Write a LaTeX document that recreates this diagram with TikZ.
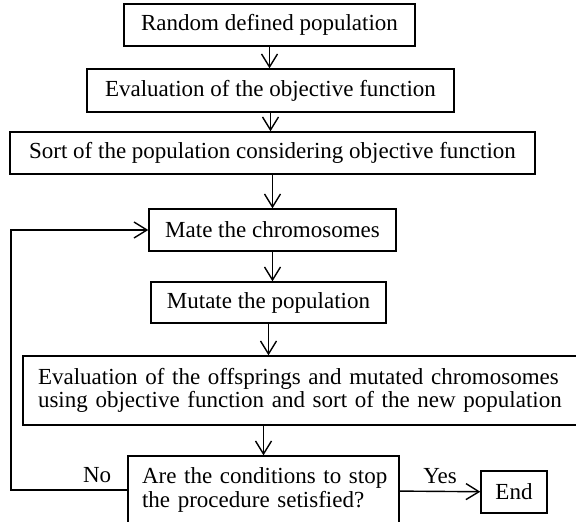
\documentclass[tikz,border=0pt]{standalone}
\usepackage{fontspec}
\setmainfont{Liberation Serif}
\usetikzlibrary{arrows.meta}

\begin{document}
\begin{tikzpicture}[->,>={Straight Barb[length=6.5pt,width=8pt]},x=1pt,y=-1pt,
                    line width=0.7pt,font=\fontsize{11.5}{10.5}\selectfont]

  \tikzstyle{proc}=[rectangle,draw,inner sep=0pt]

  \useasboundingbox (0,0) rectangle (288,261);

  \node[proc,minimum width=145.5pt,minimum height=21pt] (RND) at (134.75,12.5) {Random defined population};
  \node[proc,minimum width=183.5pt,minimum height=21.5pt] (EVO) at (135.25,45.25) {Evaluation of the objective function};
  \node[proc,minimum width=262.5pt,minimum height=21pt] (SRT) at (136.25,76.5) {Sort of the population considering objective function};

  \node[proc,minimum width=123.5pt,minimum height=21pt] (MAT) at (136.25,115) {Mate the chromosomes};
  \node[proc,minimum width=117.5pt,minimum height=20.5pt] (MUT) at (134.25,151.25) {Mutate the population};

  \node[proc,inner xsep=7.5pt,text width=273.5pt,align=left,minimum height=34.5pt] (EVN) at (155.75,195.25)
       {Evaluation of the offsprings and mutated chromosomes\\using objective function and sort of the new population};
  \node[proc,inner xsep=5pt,text width=125.5pt,align=left,minimum height=34pt] (STP) at (131.75,245)
       {\hspace{2pt}Are the conditions to stop\\\hspace{2pt}the procedure setisfied?};
  \node[proc,minimum width=33pt,minimum height=21pt] (END) at (257,246) {End};

  \coordinate (back) at (5.5,245);

  \path
  (RND.south) edge (RND.south |- EVO.north)
  (EVO.south) edge (EVO.south |- SRT.north)
  (SRT.south) edge (SRT.south |- MAT.north)
  (MAT.south) edge (MAT.south |- MUT.north)
  (MUT.south) edge (MUT.south |- EVN.north)
  (STP.north |- EVN.south) edge (STP.north)
  (STP) edge node[above] {Yes} (END)
  ;

  \draw (STP.west) -- node[above,pos=0.26] {No} (back) |- (MAT.west);
\end{tikzpicture}
\end{document}
